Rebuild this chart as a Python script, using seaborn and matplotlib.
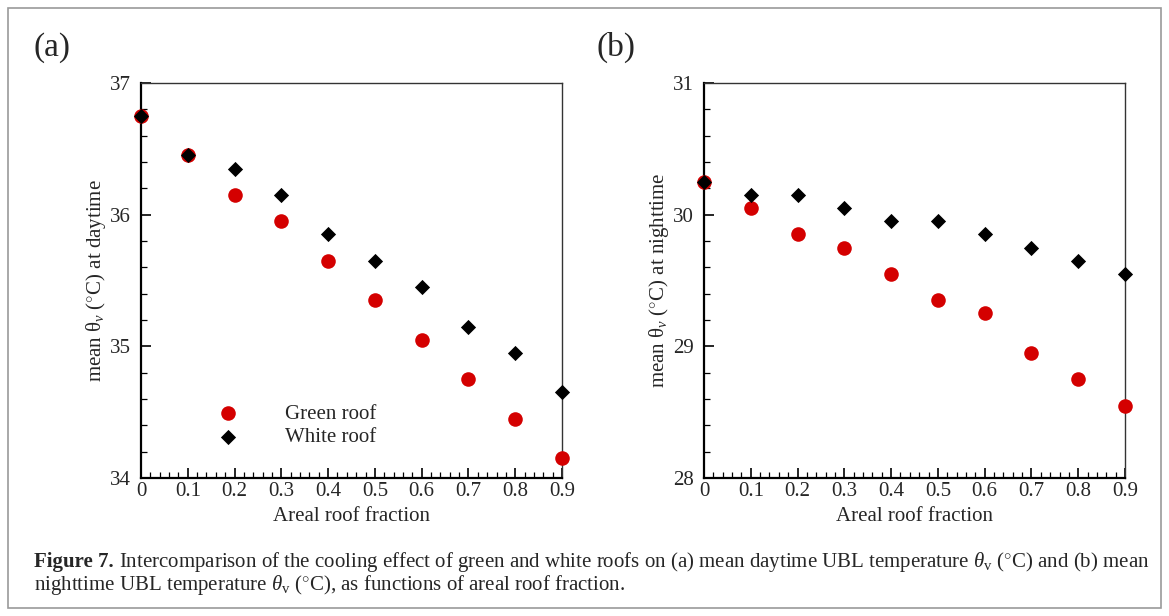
import pandas as pd
import matplotlib.pyplot as plt
import seaborn as sns
from matplotlib.patches import Rectangle
from matplotlib.ticker import MultipleLocator

# === Datos ===
fraction = [0.0, 0.1, 0.2, 0.3, 0.4, 0.5, 0.6, 0.7, 0.8, 0.9]

day_green = [36.75, 36.45, 36.15, 35.95, 35.65, 35.35, 35.05, 34.75, 34.45, 34.15]
day_white = [36.75, 36.45, 36.35, 36.15, 35.85, 35.65, 35.45, 35.15, 34.95, 34.65]

night_green = [30.25, 30.05, 29.85, 29.75, 29.55, 29.35, 29.25, 28.95, 28.75, 28.55]
night_white = [30.25, 30.15, 30.15, 30.05, 29.95, 29.95, 29.85, 29.75, 29.65, 29.55]

series_names = ["Green roof", "White roof"]
x_ticks = [0.0, 0.1, 0.2, 0.3, 0.4, 0.5, 0.6, 0.7, 0.8, 0.9]
x_tick_labels = ["0", "0.1", "0.2", "0.3", "0.4", "0.5", "0.6", "0.7", "0.8", "0.9"]
day_yticks = [34, 35, 36, 37]
night_yticks = [28, 29, 30, 31]


def make_df(green, white):
    return pd.DataFrame({
        "fraction": fraction + fraction,
        "temp": green + white,
        "roof": [series_names[0]] * len(green) + [series_names[1]] * len(white),
    })


sns.set_theme(style="white")
plt.rcParams['font.family'] = ['Liberation Serif', 'DejaVu Serif']
plt.rcParams['mathtext.fontset'] = 'custom'
plt.rcParams['mathtext.rm'] = 'Liberation Serif'
plt.rcParams['mathtext.it'] = 'Liberation Serif:italic'
plt.rcParams['mathtext.bf'] = 'Liberation Serif:bold'

fig = plt.figure(figsize=(11.69, 6.16), dpi=100)
ax_a = fig.add_axes([141 / 1169, 1 - 478 / 616, 421 / 1169, 395 / 616])
ax_b = fig.add_axes([704 / 1169, 1 - 478 / 616, 421 / 1169, 395 / 616])

# estilo de cada serie: color, marcador, tamaño
styles = {
    "Green roof": ("#d40000", "o", 110),
    "White roof": ("#000000", "D", 60),
}

panels = [
    (ax_a, make_df(day_green, day_white), day_yticks, "daytime", "(a)", True),
    (ax_b, make_df(night_green, night_white), night_yticks, "nighttime", "(b)", False),
]

for ax, df, yticks, when, tag, show_legend in panels:
    for name in series_names:
        color, marker, size = styles[name]
        sns.scatterplot(
            data=df[df["roof"] == name], x="fraction", y="temp",
            color=color, marker=marker, s=size, linewidth=0,
            label=name, clip_on=False, zorder=5, ax=ax,
        )
    ax.set_xlim(0, 0.9)
    ax.set_ylim(yticks[0], yticks[-1])
    ax.set_xticks(x_ticks)
    ax.set_xticklabels(x_tick_labels)
    ax.set_yticks(yticks)
    ax.xaxis.set_minor_locator(MultipleLocator(0.02))
    ax.yaxis.set_minor_locator(MultipleLocator(0.2))
    ax.tick_params(which="both", direction="in", top=False, right=False,
                   bottom=True, left=True, color="black", labelsize=15)
    ax.tick_params(which="major", length=7, width=1.2)
    ax.tick_params(which="minor", length=4, width=0.9)
    ax.tick_params(axis="y", pad=7)
    ax.tick_params(axis="x", pad=3)
    for sp in ax.spines.values():
        sp.set_color("#333333")
        sp.set_linewidth(1.0)
    ax.spines["left"].set_color("black")
    ax.spines["bottom"].set_color("black")
    ax.spines["left"].set_linewidth(1.6)
    ax.spines["bottom"].set_linewidth(1.6)
    ax.set_xlabel("Areal roof fraction", fontsize=15, labelpad=4)
    ax.set_ylabel(f"mean θ$_{{v}}$ ($^{{\\circ}}$C) at {when}", fontsize=15, labelpad=2)
    ax.text(-0.255, 1.09, tag, transform=ax.transAxes, fontsize=24,
            ha="left", va="center")

    if show_legend:
        handles, labels = ax.get_legend_handles_labels()
        ax.legend(handles, labels, loc="upper left", bbox_to_anchor=(0.158, 0.187),
                  frameon=False, fontsize=15, borderpad=0, borderaxespad=0,
                  handlelength=2.0, handletextpad=1.7, labelspacing=0.2)
    else:
        ax.get_legend().remove()

# marco exterior
fig.patches.append(Rectangle((8 / 1169, 8 / 616), 1153 / 1169, 600 / 616,
                             transform=fig.transFigure, fill=False,
                             edgecolor="#9a9a9a", linewidth=1.2))

# pie de figura
cap_size = 15
x0 = 34 / 1169
t1 = fig.text(x0, 1 - 562 / 616, "Figure 7.", fontsize=cap_size, fontweight="bold",
              ha="left", va="center")
fig.canvas.draw()
bb = t1.get_window_extent()
x1 = (bb.x1 + 5) / fig.bbox.width
fig.text(x1, 1 - 562 / 616,
         "Intercomparison of the cooling effect of green and white roofs on (a) mean daytime "
         "UBL temperature $\\theta_{\\mathrm{v}}$ ($^{\\circ}$C) and (b) mean",
         fontsize=cap_size, ha="left", va="center")
fig.text(x0, 1 - 585 / 616,
         "nighttime UBL temperature $\\theta_{\\mathrm{v}}$ ($^{\\circ}$C), as functions of "
         "areal roof fraction.",
         fontsize=cap_size, ha="left", va="center")

fig.savefig("out.png", dpi=100)
